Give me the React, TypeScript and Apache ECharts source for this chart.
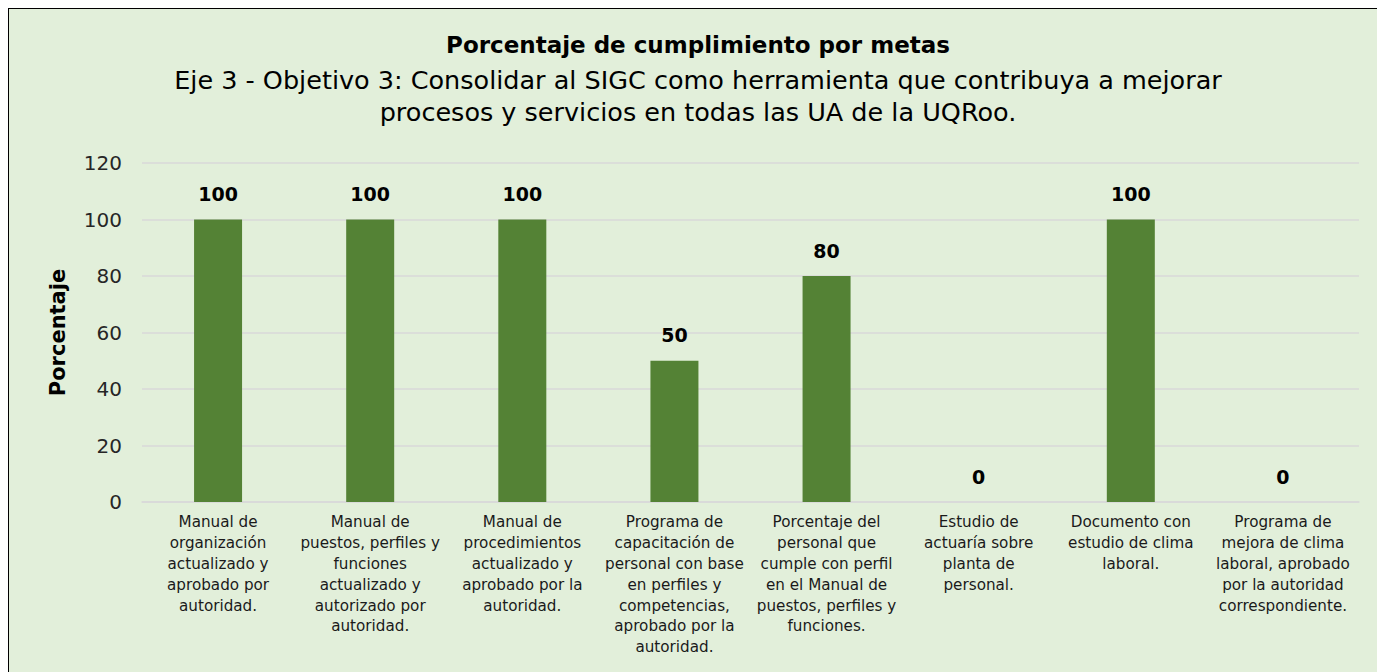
import React, { useEffect, useRef } from "react";
import * as echarts from "echarts";

const categories = [
  "Manual de\norganización\nactualizado y\naprobado por\nautoridad.",
  "Manual de\npuestos, perfiles y\nfunciones\nactualizado y\nautorizado por\nautoridad.",
  "Manual de\nprocedimientos\nactualizado y\naprobado por la\nautoridad.",
  "Programa de\ncapacitación de\npersonal con base\nen perfiles y\ncompetencias,\naprobado por la\nautoridad.",
  "Porcentaje del\npersonal que\ncumple con perfil\nen el Manual de\npuestos, perfiles y\nfunciones.",
  "Estudio de\nactuaría sobre\nplanta de\npersonal.",
  "Documento con\nestudio de clima\nlaboral.",
  "Programa de\nmejora de clima\nlaboral, aprobado\npor la autoridad\ncorrespondiente.",
];
const values = [100, 100, 100, 50, 80, 0, 100, 0];
const yTicks = { min: 0, max: 120, interval: 20 };

const titleText = "Porcentaje de cumplimiento por metas";
const subtitleLines = [
  "Eje 3 - Objetivo 3: Consolidar al SIGC como herramienta que contribuya a mejorar",
  "procesos y servicios en todas las UA de la UQRoo.",
];

const FONT = "'DejaVu Sans', 'Open Sans', sans-serif";

export default function App() {
  const ref = useRef<HTMLDivElement>(null);
  useEffect(() => {
    document.body.style.margin = "8px 0 0 8px";
    document.body.style.overflow = "hidden";
    const chart = echarts.init(ref.current!, undefined, { renderer: "svg" });
    chart.setOption({
      animation: false,
      backgroundColor: "#E2EFDA",
      textStyle: { fontFamily: FONT },
      graphic: [
        {
          type: "text",
          x: 689,
          y: 36,
          style: {
            text: titleText,
            textAlign: "center",
            textVerticalAlign: "middle",
            fontSize: 23,
            fontWeight: "bold",
            fill: "#000",
            fontFamily: FONT,
          },
        },
        ...subtitleLines.map((t, i) => ({
          type: "text",
          x: 689,
          y: 71 + i * 32,
          style: {
            text: t,
            textAlign: "center",
            textVerticalAlign: "middle",
            fontSize: 25.5,
            fill: "#000",
            fontFamily: FONT,
          },
        })),
      ],
      grid: { left: 133, right: 18, top: 154, bottom: 170, containLabel: false },
      xAxis: {
        type: "category",
        data: categories,
        axisLine: { lineStyle: { color: "#d9d9d9", width: 1.5 } },
        axisTick: { show: false },
        axisLabel: {
          interval: 0,
          fontSize: 15.2,
          lineHeight: 20.8,
          color: "#1a1a1a",
          margin: 10,
          fontFamily: FONT,
        },
      },
      yAxis: {
        type: "value",
        min: yTicks.min,
        max: yTicks.max,
        interval: yTicks.interval,
        name: "Porcentaje",
        nameLocation: "middle",
        nameGap: 74,
        nameTextStyle: { fontSize: 21, fontWeight: "bold", color: "#000", fontFamily: FONT },
        axisLine: { show: false },
        axisTick: { show: false },
        axisLabel: { fontSize: 20, color: "#262626", margin: 20, fontFamily: FONT },
        splitLine: { lineStyle: { color: "#d9d9d9", width: 1.5 } },
      },
      series: [
        {
          type: "bar",
          data: values,
          barWidth: 48,
          itemStyle: { color: "#548235" },
          label: {
            show: true,
            position: "top",
            distance: 16,
            fontSize: 19,
            fontWeight: "bold",
            color: "#000",
            fontFamily: FONT,
          },
        },
      ],
    });
    return () => chart.dispose();
  }, []);
  return (
    <div
      style={{
        width: 1369,
        height: 664,
        borderLeft: "1px solid #000",
        borderTop: "1px solid #000",
        boxSizing: "border-box",
      }}
    >
      <div ref={ref} style={{ width: 1368, height: 663 }} />
    </div>
  );
}
